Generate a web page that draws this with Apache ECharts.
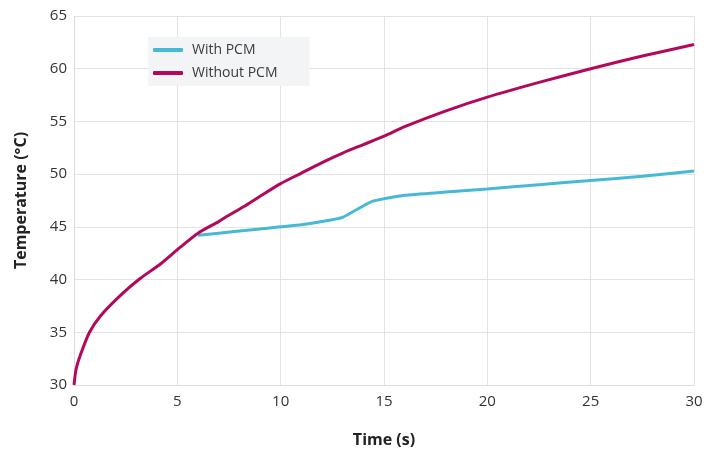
<!DOCTYPE html>
<html>
<head>
<meta charset="utf-8">
<script src="https://cdn.jsdelivr.net/npm/echarts@6/dist/echarts.min.js"></script>
<style>
  html, body { margin: 0; padding: 0; background: #fff; }
  #chart { width: 717px; height: 453px; }
</style>
</head>
<body>
<div id="chart"></div>
<script>
const timeWithout = [0, 0.1, 0.3, 0.75, 1.3, 2.3, 3.2, 4.2, 5.1, 6.0, 7.0, 7.4, 8.2, 9, 10, 11, 12, 13, 14, 15, 16, 18, 20, 22.5, 25, 27.5, 30];
const tempWithout = [30, 31.5, 32.8, 35, 36.6, 38.6, 40.1, 41.5, 43, 44.4, 45.5, 46.0, 46.9, 47.9, 49.1, 50.1, 51.1, 52.0, 52.8, 53.6, 54.5, 56.0, 57.3, 58.7, 60.0, 61.2, 62.3];
const timeWith = [6.0, 7, 8.5, 10, 11, 12, 13, 14.4, 16, 18, 20, 22.5, 25, 27.5, 30];
const tempWith = [44.2, 44.4, 44.7, 45.0, 45.2, 45.5, 45.9, 47.4, 48.0, 48.3, 48.6, 49.0, 49.4, 49.8, 50.3];

const font = '"Open Sans", "Noto Sans", sans-serif';
const chart = echarts.init(document.getElementById('chart'));

const pairs = (xs, ys) => xs.map((x, i) => [x, ys[i]]);

chart.setOption({
  animation: false,
  textStyle: { fontFamily: font },
  grid: { left: 74, right: 23, top: 16, bottom: 66, containLabel: false },
  legend: {
    left: 148,
    top: 37,
    orient: 'vertical',
    backgroundColor: '#f3f4f5',
    padding: [6, 32, 6, 5],
    itemGap: 9,
    itemWidth: 30,
    itemHeight: 4,
    icon: 'roundRect',
    textStyle: { fontFamily: font, fontSize: 14, color: '#3a3a3a', padding: [0, 0, 0, 4] },
    data: ['With PCM', 'Without PCM']
  },
  xAxis: {
    type: 'value',
    min: 0,
    max: 30,
    interval: 5,
    name: 'Time (s)',
    nameLocation: 'middle',
    nameGap: 47,
    nameTextStyle: { fontFamily: font, fontSize: 16, fontWeight: 'bold', color: '#222' },
    axisLine: { lineStyle: { color: '#dddddd' } },
    axisTick: { show: false },
    axisLabel: { fontSize: 15, color: '#333', margin: 9 },
    splitLine: { lineStyle: { color: '#e3e3e3' } }
  },
  yAxis: {
    type: 'value',
    min: 30,
    max: 65,
    interval: 5,
    name: 'Temperature (°C)',
    nameLocation: 'middle',
    nameGap: 45,
    nameTextStyle: { fontFamily: font, fontSize: 16, fontWeight: 'bold', color: '#222' },
    axisLine: { show: true, lineStyle: { color: '#dddddd' } },
    axisTick: { show: false },
    axisLabel: { fontSize: 15, color: '#333', margin: 7 },
    splitLine: { lineStyle: { color: '#e3e3e3' } }
  },
  series: [
    {
      name: 'With PCM',
      type: 'line',
      data: pairs(timeWith, tempWith),
      showSymbol: false,
      smooth: 0.15,
      lineStyle: { color: '#45b9d6', width: 3 },
      itemStyle: { color: '#45b9d6' },
      z: 2
    },
    {
      name: 'Without PCM',
      type: 'line',
      data: pairs(timeWithout, tempWithout),
      showSymbol: false,
      smooth: 0.25,
      lineStyle: { color: '#b3095b', width: 3 },
      itemStyle: { color: '#b3095b' },
      z: 3
    }
  ]
});
</script>
</body>
</html>
